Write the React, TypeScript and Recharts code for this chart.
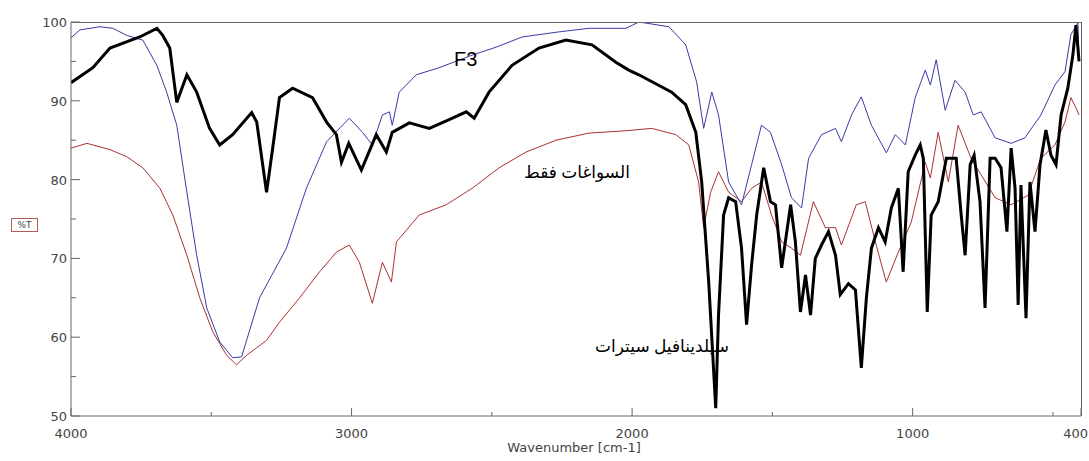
import React from "react";
import { LineChart, Line, XAxis, YAxis } from "recharts";

// F3 formulation (blue)
const f3Wn = [4000, 3968, 3897, 3851, 3801, 3744, 3694, 3659, 3623, 3587, 3552, 3516, 3470, 3424, 3392, 3328, 3232, 3161, 3089, 3008, 2961, 2926, 2890, 2865, 2855, 2830, 2769, 2688, 2570, 2485, 2392, 2271, 2154, 2022, 1976, 1869, 1809, 1770, 1745, 1716, 1692, 1656, 1610, 1574, 1539, 1507, 1467, 1432, 1396, 1371, 1325, 1275, 1254, 1218, 1183, 1147, 1094, 1062, 1026, 991, 955, 937, 916, 884, 849, 813, 784, 756, 706, 649, 600, 543, 493, 457, 436, 411, 407];
const f3T = [98.0, 99.0, 99.4, 99.2, 98.3, 97.7, 94.5, 91.1, 86.9, 78.4, 70.4, 63.7, 59.4, 57.4, 57.5, 65.0, 71.3, 78.9, 84.8, 87.8, 86.0, 84.4, 88.2, 88.6, 86.9, 91.1, 93.3, 94.2, 95.8, 96.8, 98.1, 98.7, 99.2, 99.2, 100, 99.4, 97.1, 92.4, 86.5, 91.1, 88.2, 79.7, 76.8, 81.9, 86.9, 86.0, 81.9, 77.7, 76.4, 82.7, 85.7, 86.5, 84.8, 88.2, 90.5, 86.9, 83.4, 85.7, 84.4, 90.4, 93.9, 92.0, 95.2, 88.8, 92.6, 91.1, 88.2, 88.6, 85.3, 84.6, 85.3, 88.2, 92.0, 93.7, 98.4, 99.9, 95.2];

// excipients only (red)
const excWn = [4000, 3943, 3861, 3801, 3744, 3683, 3637, 3587, 3541, 3495, 3445, 3410, 3374, 3303, 3257, 3185, 3114, 3054, 3008, 2972, 2926, 2890, 2858, 2840, 2759, 2663, 2570, 2474, 2378, 2271, 2154, 2022, 1930, 1844, 1798, 1763, 1745, 1720, 1692, 1656, 1610, 1574, 1539, 1503, 1467, 1432, 1400, 1354, 1311, 1275, 1254, 1201, 1169, 1133, 1094, 1051, 1005, 955, 937, 909, 873, 838, 792, 756, 706, 649, 589, 543, 493, 457, 436, 418, 407];
const excT = [84.0, 84.6, 83.8, 82.9, 81.5, 78.9, 75.5, 70.4, 65.0, 60.7, 57.7, 56.5, 57.7, 59.6, 61.9, 65.0, 68.3, 70.8, 71.7, 69.5, 64.3, 69.5, 67.0, 72.1, 75.5, 76.8, 78.9, 81.5, 83.5, 85.0, 85.9, 86.2, 86.5, 85.7, 84.4, 79.7, 73.9, 78.4, 81.0, 78.4, 77.2, 78.9, 79.7, 75.5, 72.1, 71.3, 70.4, 77.2, 73.9, 73.9, 71.7, 76.8, 77.2, 72.1, 67.0, 70.8, 74.6, 82.2, 80.2, 86.0, 79.7, 86.9, 82.7, 80.6, 77.7, 76.8, 78.0, 82.7, 84.4, 87.3, 90.4, 89.1, 88.2];

// sildenafil citrate (black)
const silWn = [4000, 3922, 3861, 3755, 3694, 3673, 3648, 3623, 3587, 3552, 3506, 3470, 3424, 3356, 3338, 3303, 3281, 3257, 3210, 3139, 3089, 3054, 3036, 3010, 2965, 2912, 2876, 2855, 2794, 2723, 2652, 2591, 2563, 2510, 2428, 2332, 2236, 2143, 2058, 2012, 1976, 1859, 1809, 1773, 1752, 1727, 1702, 1692, 1674, 1656, 1631, 1610, 1592, 1574, 1556, 1531, 1507, 1489, 1467, 1435, 1418, 1400, 1382, 1364, 1347, 1325, 1300, 1275, 1258, 1229, 1204, 1183, 1165, 1147, 1122, 1098, 1076, 1051, 1034, 1016, 991, 973, 962, 948, 934, 909, 880, 845, 827, 813, 795, 781, 760, 742, 724, 706, 685, 664, 649, 635, 624, 614, 596, 582, 564, 546, 525, 507, 489, 471, 447, 429, 418, 407];
const silT = [92.3, 94.2, 96.7, 98.1, 99.2, 98.3, 96.7, 89.8, 93.3, 91.1, 86.5, 84.4, 85.7, 88.5, 87.3, 78.4, 84.0, 90.4, 91.6, 90.4, 87.3, 85.7, 82.2, 84.6, 81.2, 85.7, 83.5, 86.0, 87.2, 86.5, 87.6, 88.6, 87.8, 91.1, 94.5, 96.7, 97.7, 97.1, 94.9, 93.9, 93.3, 91.1, 89.5, 86.0, 79.7, 67.0, 51.0, 62.8, 75.5, 77.7, 77.2, 71.3, 61.6, 69.2, 75.5, 81.5, 77.2, 76.8, 68.8, 76.8, 72.1, 63.2, 67.9, 62.8, 70.0, 71.7, 73.4, 70.4, 65.4, 66.8, 66.0, 56.1, 65.0, 71.3, 73.9, 72.1, 76.4, 78.9, 68.3, 81.0, 83.1, 84.4, 82.7, 63.2, 75.5, 77.2, 82.7, 82.7, 75.5, 70.4, 81.9, 83.1, 77.2, 63.7, 82.7, 82.7, 81.5, 73.4, 84.0, 78.9, 64.1, 79.3, 62.4, 79.7, 73.4, 81.9, 86.3, 83.1, 81.9, 88.2, 91.6, 95.8, 99.6, 95.0];

const xTicks = [4000, 3500, 3000, 2500, 2000, 1500, 1000, 500, 400];
const xLabeled = [4000, 3000, 2000, 1000, 400];
const yTicks = [50, 55, 60, 65, 70, 75, 80, 85, 90, 95, 100];

const toRows = (wn: number[], t: number[]) => wn.map((w, i) => ({ wn: w, t: t[i] }));

const FONT = "'DejaVu Sans', sans-serif";
const AXIS = "#666";
const TXT = "#444";

function XTick(props: any) {
  const { x, y, payload } = props;
  const major = xLabeled.includes(payload.value);
  // last label sits at the right edge, keep it inside the picture
  const edge = payload.value === 400;
  return (
    <g>
      <line x1={x} x2={x} y1={y} y2={y - (major ? 8 : 4)} stroke={AXIS} />
      {major && (
        <text
          x={edge ? x + 7 : x}
          y={y + 22}
          textAnchor={edge ? "end" : "middle"}
          fontSize={13}
          fontFamily={FONT}
          fill={TXT}
        >
          {payload.value}
        </text>
      )}
    </g>
  );
}

function YTick(props: any) {
  const { x, y, payload } = props;
  const major = payload.value % 10 === 0;
  return (
    <g>
      <line x1={x} x2={x + (major ? 9 : 5)} y1={y} y2={y} stroke={AXIS} />
      {major && (
        <text x={x - 4} y={y + 5} textAnchor="end" fontSize={13} fontFamily={FONT} fill={TXT}>
          {payload.value}
        </text>
      )}
    </g>
  );
}

export default function App() {
  return (
    <div style={{ position: "absolute", left: 0, top: 0, width: 1089, height: 461, background: "#fff" }}>
      <LineChart width={1089} height={461} margin={{ top: 22, right: 8, bottom: 0, left: 0 }}>
        <XAxis
          dataKey="wn"
          type="number"
          domain={[400, 4000]}
          reversed
          ticks={xTicks}
          interval={0}
          allowDataOverflow
          height={45}
          tickSize={0}
          tickMargin={0}
          tickLine={false}
          axisLine={{ stroke: AXIS }}
          tick={<XTick />}
        />
        <YAxis
          type="number"
          domain={[50, 100]}
          ticks={yTicks}
          interval={0}
          allowDataOverflow
          width={71}
          tickSize={0}
          tickMargin={0}
          tickLine={false}
          axisLine={{ stroke: AXIS }}
          tick={<YTick />}
        />
        <Line data={toRows(excWn, excT)} dataKey="t" type="linear" stroke="#a83232" strokeWidth={1} dot={false} isAnimationActive={false} />
        <Line data={toRows(f3Wn, f3T)} dataKey="t" type="linear" stroke="#3a3aa8" strokeWidth={1} dot={false} isAnimationActive={false} />
        <Line data={toRows(silWn, silT)} dataKey="t" type="linear" stroke="#000" strokeWidth={3} dot={false} isAnimationActive={false} />
      </LineChart>

      {/* frame top / right */}
      <div style={{ position: "absolute", left: 71, top: 22, width: 1010, height: 1, background: AXIS }} />
      <div style={{ position: "absolute", left: 1081, top: 22, width: 1, height: 394, background: AXIS }} />

      {/* y axis title */}
      <div
        style={{
          position: "absolute", left: 11, top: 218, width: 25, height: 12, border: "1px solid #b05a5a",
          fontFamily: FONT, fontSize: 9, lineHeight: "12px", textAlign: "center", color: TXT,
        }}
      >
        %T
      </div>

      {/* x axis title */}
      <div style={{ position: "absolute", left: 574, top: 441, transform: "translateX(-50%)", fontFamily: FONT, fontSize: 13, lineHeight: "13px", color: TXT, whiteSpace: "nowrap" }}>
        Wavenumber [cm-1]
      </div>

      {/* series labels */}
      <div style={{ position: "absolute", left: 454, top: 49, fontFamily: "'Liberation Sans', sans-serif", fontSize: 20, lineHeight: "20px", color: "#000" }}>
        F3
      </div>
      <div dir="rtl" style={{ position: "absolute", left: 577, top: 163, transform: "translateX(-50%)", fontFamily: "'Liberation Serif', 'DejaVu Sans', serif", fontSize: 17, lineHeight: "20px", color: "#000", whiteSpace: "nowrap" }}>
        السواغات فقط
      </div>
      <div dir="rtl" style={{ position: "absolute", left: 662, top: 337, transform: "translateX(-50%)", fontFamily: "'Liberation Serif', 'DejaVu Sans', serif", fontSize: 17, lineHeight: "20px", color: "#000", whiteSpace: "nowrap" }}>
        سيلدينافيل سيترات
      </div>
    </div>
  );
}
